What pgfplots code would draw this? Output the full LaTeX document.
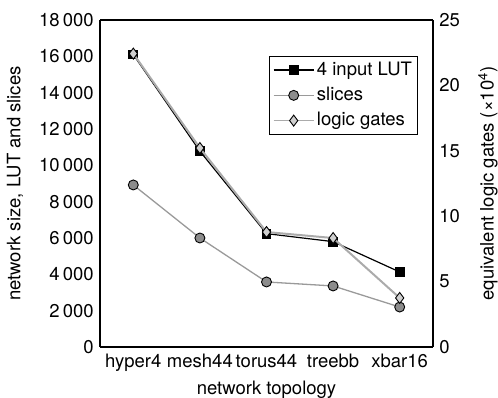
\documentclass[border=0pt]{standalone}
\usepackage{pgfplots}
\pgfplotsset{compat=1.18}
\usepackage{fontspec}
\setmainfont{TeX Gyre Heros}
\definecolor{slicegray}{HTML}{8C8C8C}
\definecolor{sliceline}{HTML}{9A9A9A}
\definecolor{gateline}{HTML}{ABABAB}
\definecolor{gatefill}{HTML}{CFCFCF}
\newcommand{\bigf}{\fontsize{18.5pt}{22pt}\selectfont}
\begin{document}
\bigf
\begin{tikzpicture}[x=1pt,y=1pt]
\path[use as bounding box] (0,0) rectangle (498,398);
\begin{axis}[
  at={(100pt,51pt)}, anchor=south west,
  scale only axis, width=333pt, height=327pt,
  xmin=-0.5, xmax=4.5, ymin=0, ymax=18000,
  xtick={0,1,2,3,4},
  xticklabels={hyper4,mesh44,torus44,treebb,xbar16},
  ytick={0,2000,...,18000},
  axis y line*=left, axis x line*=box,
  axis line style={line width=1.1pt},
  tick style={draw=none},
  scaled y ticks=false,
  /pgf/number format/assume math mode=true,
  /pgf/number format/1000 sep={\,},
  ticklabel style={font=\bigf},
  xticklabel style={yshift=-1pt},
  label style={font=\bigf},
  xlabel={network topology},
  ylabel={network size, LUT and slices},
  ylabel style={at={(axis description cs:-0.255,0.5)}, anchor=center},
  xlabel style={at={(axis description cs:0.5,-0.13)}, anchor=center},
  legend style={at={(axis description cs:0.955,0.89)}, anchor=north east,
    font=\bigf, draw=black, line width=1pt,
    row sep=4pt, inner sep=3pt, nodes={inner sep=2.5pt}},
  legend cell align=left,
  legend image code/.code={%
    \draw[mark repeat=2,mark phase=2] plot coordinates {(0pt,0pt) (20pt,0pt) (40pt,0pt)};},
  clip=false,
]
\addplot[black, line width=1.2pt, mark=square*, mark size=4.3pt,
  mark options={fill=black, draw=black}]
  coordinates {(0,16100) (1,10780) (2,6240) (3,5800) (4,4130)};
\addlegendentry{4 input LUT}
\addplot[sliceline, line width=1.3pt, mark=*, mark size=5pt,
  mark options={fill=slicegray, draw=black, line width=0.9pt}]
  coordinates {(0,8920) (1,6000) (2,3580) (3,3360) (4,2200)};
\addlegendentry{slices}
\addlegendimage{gateline, line width=1.5pt, mark=diamond*, mark size=5.5pt,
  mark options={fill=gatefill, draw=black, line width=0.9pt}}
\addlegendentry{logic gates}
\end{axis}
\begin{axis}[
  at={(100pt,51pt)}, anchor=south west,
  scale only axis, width=333pt, height=327pt,
  xmin=-0.5, xmax=4.5, ymin=0, ymax=25,
  axis x line=none, axis y line*=right,
  axis line style={line width=1.1pt},
  ytick={0,5,...,25},
  tick style={draw=none},
  /pgf/number format/assume math mode=true,
  ticklabel style={font=\bigf},
  label style={font=\bigf},
  ylabel={equivalent logic gates (×10\textsuperscript{4})},
  ylabel style={at={(axis description cs:1.165,0.5)}, anchor=center},
  clip=false,
]
\addplot[gateline, line width=2pt, mark=diamond*, mark size=5.5pt,
  mark options={fill=gatefill, draw=black, line width=0.9pt}]
  coordinates {(0,22.43) (1,15.21) (2,8.79) (3,8.33) (4,3.75)};
\end{axis}
\end{tikzpicture}
\end{document}
